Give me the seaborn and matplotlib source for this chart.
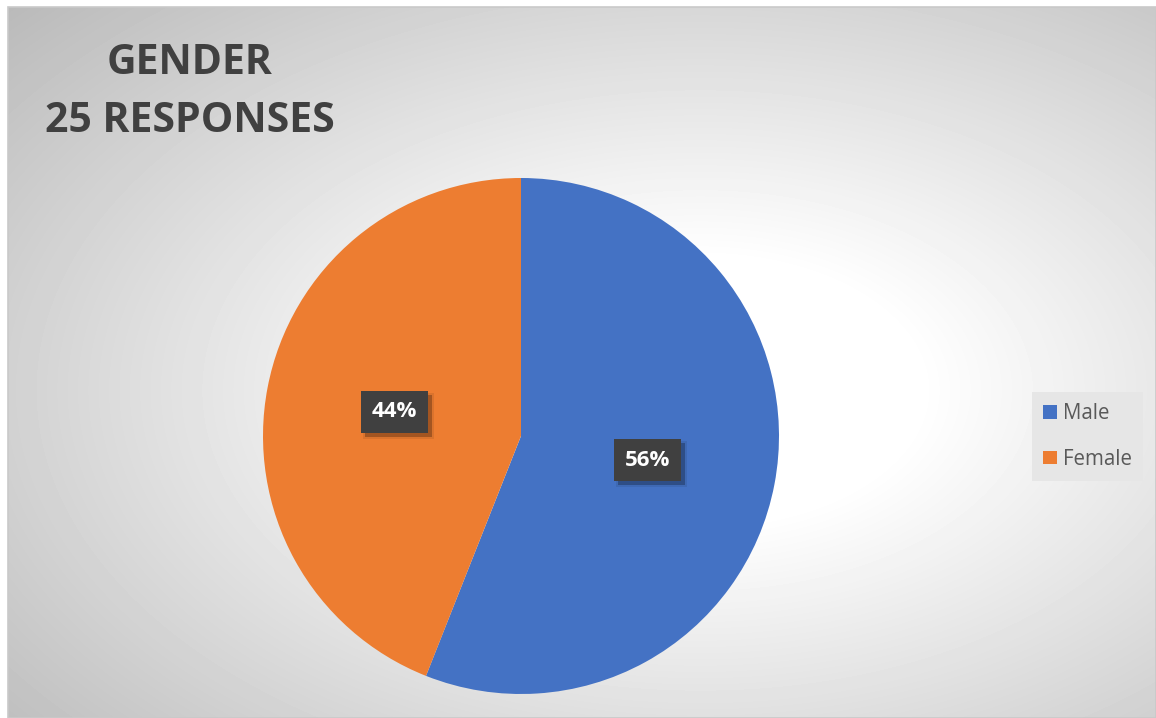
import numpy as np
import matplotlib
matplotlib.use("Agg")
import matplotlib.pyplot as plt
from matplotlib.patches import Rectangle
import seaborn as sns

# Survey data
categories = ["Male", "Female"]
responses = [14, 11]          # 25 responses in total
title_lines = ["GENDER", "25 RESPONSES"]

sns.set_theme(style="white")
plt.rcParams["font.family"] = ["Open Sans", "DejaVu Sans"]
plt.rcParams["hatch.color"] = "#555555"
plt.rcParams["hatch.linewidth"] = 1.2

palette = sns.color_palette(["#4472C4", "#ED7D31"])

W, H = 1156, 718
fig = plt.figure(figsize=(W / 100, H / 100), dpi=100)
fig.patch.set_facecolor("white")


def pixel_axes(z):
    """Full-figure axes in pixel units (y downwards)."""
    a_ = fig.add_axes([0, 0, 1, 1])
    a_.set_xlim(0, W)
    a_.set_ylim(H, 0)
    a_.axis("off")
    a_.set_zorder(z)
    return a_


# Chart-area background: soft radial grey-to-white fill
bg = pixel_axes(1)
x0, y0, x1, y1 = 8, 7, W, H
xx, yy = np.meshgrid(np.arange(x0, x1), np.arange(y0, y1))
cx, cy, a, b = 700, 390, 780, 470
r = np.sqrt(((xx - cx) / a) ** 2 + ((yy - cy) / b) ** 2)
v = 1.0 - 0.25 * np.clip((r - 0.28) / 0.85, 0, 1.2)
bg.imshow(v, cmap="gray", vmin=0, vmax=1, extent=[x0, x1, y1, y0],
          interpolation="bilinear", aspect="auto")
bg.add_patch(Rectangle((x0, y0), x1 - x0, y1 - y0, fill=False,
                       ec="#c9c9c9", lw=1.2))

# Title
for line, ty in zip(title_lines, [63, 122]):
    bg.text(190, ty, line, ha="center", va="center", fontsize=29.5,
            fontweight="bold", color="#404040")

# Pie
S = 540
cxp, cyp, R = 521, 436, 258
ax = fig.add_axes([(cxp - S / 2) / W, (H - cyp - S / 2) / H, S / W, S / H])
ax.set_zorder(2)
ax.patch.set_visible(False)
wedges, _, autotexts = ax.pie(
    responses, colors=palette, startangle=90, counterclock=False,
    radius=2 * R / S, autopct=lambda p: f"{p:.0f}%", pctdistance=0.5,
    wedgeprops=dict(linewidth=0), textprops=dict(color="white"))
ax.set_xlim(-1, 1)
ax.set_ylim(-1, 1)
ax.set_aspect("equal")

# Value labels: dark boxes with a soft drop shadow, drawn above the pie
box_style = dict(boxstyle="square,pad=0.48", fc="#404040", ec="#404040",
                 lw=0, hatch="..")
for t in autotexts:
    t.set_fontsize(16)
    t.set_fontweight("bold")
    t.set_bbox(box_style)

fig.canvas.draw()
renderer = fig.canvas.get_renderer()
shadow = pixel_axes(2.5)
labels = pixel_axes(3)
for t in autotexts:
    ext = t.get_bbox_patch().get_window_extent(renderer)
    shadow.add_patch(Rectangle((ext.x0 + 4, H - ext.y1 + 4), ext.width, ext.height,
                               fc=(0, 0, 0, 0.25), ec="none"))
    shadow.add_patch(Rectangle((ext.x0 + 2, H - ext.y1 + 2), ext.width + 4,
                               ext.height + 4, fc=(0, 0, 0, 0.08), ec="none"))
    px, py = ax.transData.transform(t.get_position())
    labels.text(px, H - py, t.get_text(), ha="center", va="center",
                fontsize=16, fontweight="bold", color="white", bbox=box_style)
    t.set_visible(False)

# Legend
leg = fig.legend(wedges, categories, loc="center left",
                 bbox_to_anchor=(1032 / W, 1 - 436.5 / H),
                 bbox_transform=fig.transFigure, frameon=True, fancybox=False,
                 fontsize=14.8, handlelength=0.65, handleheight=0.65,
                 handletextpad=0.3, labelspacing=1.2, borderpad=0.55,
                 borderaxespad=0)
leg.get_frame().set_facecolor("#e6e6e6")
leg.get_frame().set_edgecolor("none")
leg.get_frame().set_alpha(1)
leg.set_zorder(4)
for txt in leg.get_texts():
    txt.set_color("#595959")

fig.savefig("out.png", dpi=100)
